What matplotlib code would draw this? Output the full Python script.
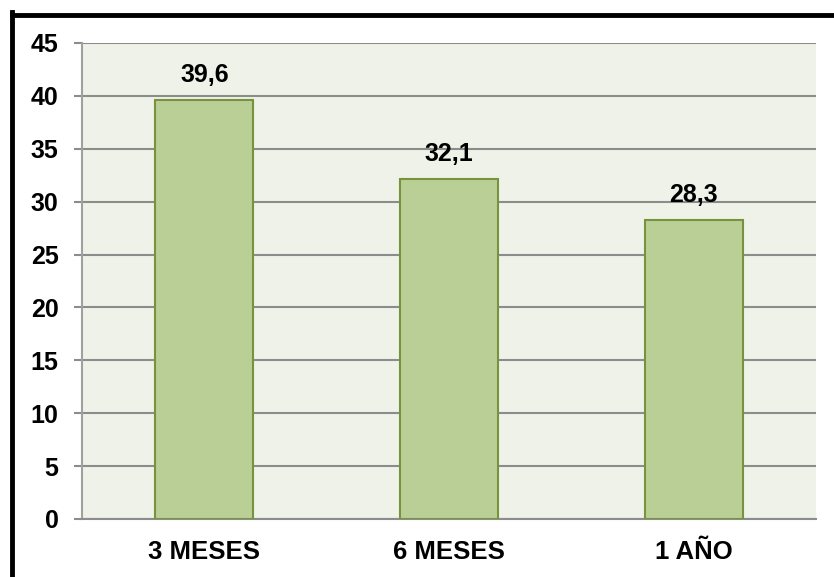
import matplotlib
matplotlib.use("Agg")
import matplotlib.pyplot as plt
from matplotlib.lines import Line2D

categories = ["3 MESES", "6 MESES", "1 AÑO"]
values = [39.6, 32.1, 28.3]
yticks = [0, 5, 10, 15, 20, 25, 30, 35, 40, 45]

plt.rcParams['font.family'] = ['Liberation Sans', 'DejaVu Sans']

W, H = 834, 577
fig = plt.figure(figsize=(W / 100, H / 100), dpi=100)
ax = fig.add_axes([82 / W, 1 - 519 / H, (816 - 82) / W, (519 - 43) / H])
ax.set_facecolor("#EFF2E8")

x = range(len(categories))
ax.bar(x, values, width=0.4, color="#B9CF96", edgecolor="#77933C", linewidth=1.5, zorder=3)
for xi, v in zip(x, values):
    ax.annotate(f"{v:.1f}".replace(".", ","), (xi, v), xytext=(0, 13), textcoords="offset points",
                ha="center", va="baseline", fontsize=18, fontweight="bold", color="black")

ax.set_xlim(-0.5, len(categories) - 0.5)
ax.set_ylim(0, 45)
ax.set_yticks(yticks)
ax.set_yticklabels([str(t) for t in yticks], fontsize=18, fontweight="bold")
ax.set_xticks(list(x))
ax.set_xticklabels(categories, fontsize=18.5, fontweight="bold")
ax.tick_params(axis="y", length=6, width=1.5, color="#8C8C8C", pad=11)
ax.tick_params(axis="x", length=0, pad=15)
ax.yaxis.grid(True, color="#8C8C8C", linewidth=1.5, zorder=1)
ax.set_axisbelow(True)
for s in ["top", "right"]:
    ax.spines[s].set_visible(False)
ax.spines["left"].set_color("#A0A0A0")
ax.spines["left"].set_linewidth(1.5)
ax.spines["bottom"].set_color("#8C8C8C")
ax.spines["bottom"].set_linewidth(1.5)

# outer black frame (left and top visible)
fig.add_artist(Line2D([12 / W, 12 / W], [0, 1 - 12 / H], transform=fig.transFigure, color="black", linewidth=3.5, solid_capstyle="projecting"))
fig.add_artist(Line2D([12 / W, 1], [1 - 14.5 / H, 1 - 14.5 / H], transform=fig.transFigure, color="black", linewidth=3.5, solid_capstyle="projecting"))

fig.savefig("out.png", dpi=100)
